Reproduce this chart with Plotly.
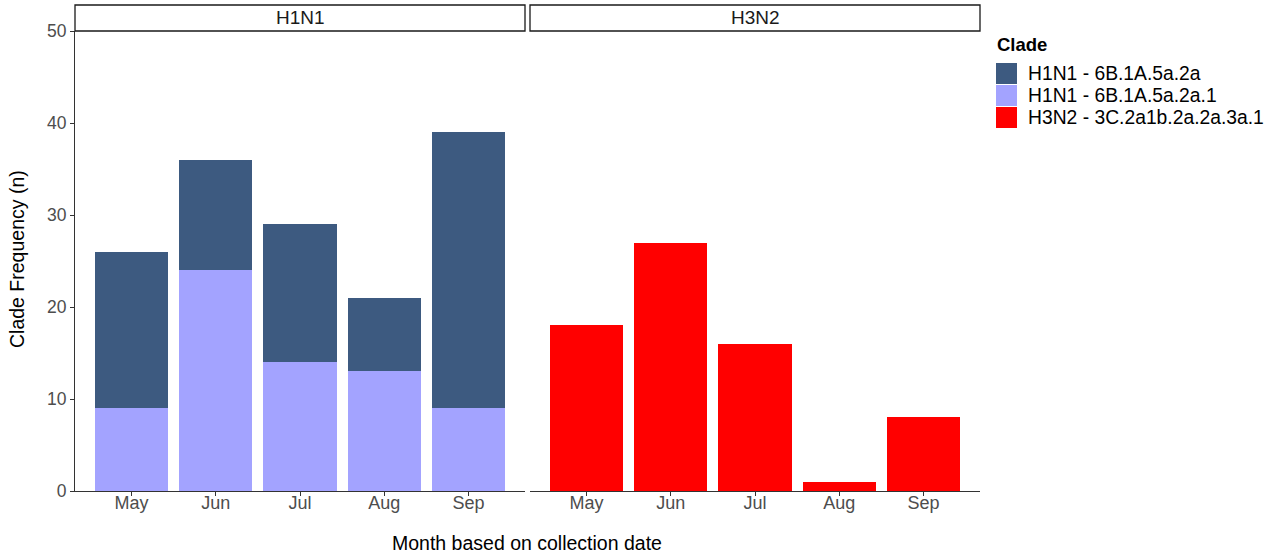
import plotly.graph_objects as go

months = ["May", "Jun", "Jul", "Aug", "Sep"]
h1n1_6b_2a = [17, 12, 15, 8, 30]       # dark segment (stacked on top)
h1n1_6b_2a1 = [9, 24, 14, 13, 9]       # light segment (bottom)
h3n2_3c = [18, 27, 16, 1, 8]
panels = ["H1N1", "H3N2"]
clade_names = ["H1N1 - 6B.1A.5a.2a", "H1N1 - 6B.1A.5a.2a.1", "H3N2 - 3C.2a1b.2a.2a.3a.1"]
clade_colors = ["#3D5A80", "#A3A3FF", "#FF0000"]
y_ticks = [0, 10, 20, 30, 40, 50]

W, H = 1275, 553
FONT = "Liberation Sans, Arial, sans-serif"
def px(xp): return xp / W
def py(yp): return 1 - yp / H

fig = go.Figure()
fig.add_trace(go.Bar(x=months, y=h1n1_6b_2a1, name=clade_names[1],
                     marker=dict(color=clade_colors[1], line=dict(width=0)), xaxis="x", yaxis="y"))
fig.add_trace(go.Bar(x=months, y=h1n1_6b_2a, name=clade_names[0],
                     marker=dict(color=clade_colors[0], line=dict(width=0)), xaxis="x", yaxis="y"))
fig.add_trace(go.Bar(x=months, y=h3n2_3c, name=clade_names[2],
                     marker=dict(color=clade_colors[2], line=dict(width=0)), xaxis="x2", yaxis="y2"))

axis_line = "#333333"
x_common = dict(type="category", categoryorder="array", categoryarray=months, range=[-0.67, 4.67],
                showline=True, linecolor=axis_line, linewidth=1, ticks="outside", ticklen=4, tickcolor=axis_line,
                tickfont=dict(family=FONT, size=18, color="#4D4D4D"), ticklabelstandoff=-9,
                showgrid=False, zeroline=False, automargin=False)
dom_y = [py(491), py(31)]
fig.update_layout(
    xaxis=dict(domain=[px(75), px(525)], anchor="y", **x_common),
    xaxis2=dict(domain=[px(530), px(980)], anchor="y2", **x_common),
    yaxis=dict(domain=dom_y, range=[0, 50], tickvals=y_ticks, showline=True, linecolor=axis_line, linewidth=1,
               ticks="outside", ticklen=4, tickcolor=axis_line,
               tickfont=dict(family=FONT, size=17.5, color="#4D4D4D"), showgrid=False,
               zeroline=False, automargin=False),
    yaxis2=dict(domain=dom_y, range=[0, 50], anchor="x2", matches="y", showline=False, showticklabels=False,
                ticks="", showgrid=False, zeroline=False, automargin=False),
    barmode="stack", bargap=0.13,
    width=W, height=H, autosize=False,
    margin=dict(l=0, r=0, t=0, b=0, autoexpand=False),
    paper_bgcolor="white", plot_bgcolor="white",
    showlegend=False,
    font=dict(family=FONT),
)

shapes = []
annotations = []
# facet strips
for name, (x0, x1) in zip(panels, [(75, 525), (530, 980)]):
    shapes.append(dict(type="rect", xref="paper", yref="paper", x0=px(x0), x1=px(x1), y0=py(31), y1=py(5),
                       line=dict(color="#1a1a1a", width=1.3), fillcolor="white"))
    annotations.append(dict(text=name, xref="paper", yref="paper", x=(px(x0) + px(x1)) / 2, y=(py(31) + py(5)) / 2,
                            showarrow=False, xanchor="center", yanchor="middle",
                            font=dict(family=FONT, size=19, color="#1a1a1a")))
# axis titles
annotations.append(dict(text="Month based on collection date", xref="paper", yref="paper", x=px(527), y=py(543),
                        showarrow=False, xanchor="center", yanchor="middle",
                        font=dict(family=FONT, size=19.5, color="#000")))
annotations.append(dict(text="Clade Frequency (n)", xref="paper", yref="paper", x=px(17), y=py(259),
                        showarrow=False, xanchor="center", yanchor="middle", textangle=-90,
                        font=dict(family=FONT, size=19.5, color="#000")))
# legend (drawn from the clade names / colours)
annotations.append(dict(text="<b>Clade</b>", xref="paper", yref="paper", x=px(995), y=py(44),
                        showarrow=False, xanchor="left", yanchor="middle",
                        font=dict(family=FONT, size=18.5, color="#000")))
for i, (nm, col) in enumerate(zip(clade_names, clade_colors)):
    top = 63 + 22 * i
    shapes.append(dict(type="rect", xref="paper", yref="paper", x0=px(996), x1=px(1017),
                       y0=py(top + 21), y1=py(top), line=dict(width=0), fillcolor=col))
    annotations.append(dict(text=nm, xref="paper", yref="paper", x=px(1026), y=py(top + 10.5),
                            showarrow=False, xanchor="left", yanchor="middle",
                            font=dict(family=FONT, size=19.3, color="#000")))
fig.update_layout(shapes=shapes, annotations=annotations)

fig.write_html("out.html", config={"displayModeBar": False},
               post_script="document.body.style.margin='0';document.body.style.overflow='hidden';")
